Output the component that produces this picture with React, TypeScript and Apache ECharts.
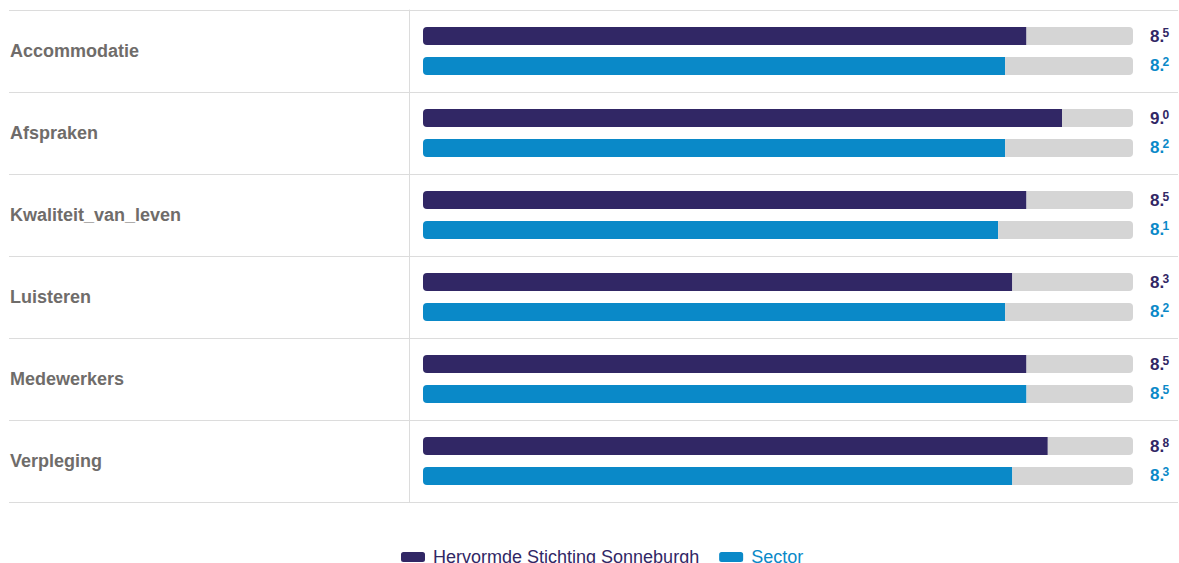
import React, { useEffect, useRef } from "react";
import * as echarts from "echarts";

const categories = ["Accommodatie", "Afspraken", "Kwaliteit_van_leven", "Luisteren", "Medewerkers", "Verpleging"];
const orgName = "Hervormde Stichting Sonneburgh";
const sectorName = "Sector";
const orgValues = [8.5, 9.0, 8.5, 8.3, 8.5, 8.8];
const sectorValues = [8.2, 8.2, 8.1, 8.2, 8.5, 8.3];
const scaleMax = 10;

const DARK = "#312765";
const BLUE = "#0a89c8";
const TRACK = "#d5d5d5";
const FONT = "'Liberation Sans', Arial, sans-serif";

function fmt(v: number) {
  const s = v.toFixed(1).split(".");
  return `{i|${s[0]}}{d|.}{s|${s[1]}}`;
}

function richFor(color: string) {
  return {
    i: { fontSize: 17, fontWeight: "bold", color, fontFamily: FONT },
    d: { fontSize: 17, fontWeight: "bold", color, fontFamily: FONT, width: 3 },
    s: { fontSize: 12, fontWeight: "bold", color, fontFamily: FONT, verticalAlign: "top", padding: [0, 0, 7, 0] },
  };
}

export default function App() {
  const ref = useRef<HTMLDivElement>(null);
  useEffect(() => {
    if (!ref.current) return;
    const chart = echarts.init(ref.current, undefined, { renderer: "svg" });
    const rest = (arr: number[]) => arr.map((v) => +(scaleMax - v).toFixed(2));
    chart.setOption({
      animation: false,
      textStyle: { fontFamily: FONT },
      legend: {
        top: 543,
        left: 396,
        icon: "roundRect",
        itemWidth: 24,
        itemHeight: 10,
        itemGap: 20,
        data: [
          { name: orgName, textStyle: { color: DARK } },
          { name: sectorName, textStyle: { color: BLUE } },
        ],
        textStyle: { fontSize: 18, fontFamily: FONT, padding: [0, 0, 0, 3] },
      },
      grid: [
        { left: 9, right: 1, top: 10, height: 492 },
        { left: 423, right: 46, top: 10, height: 492 },
      ],
      xAxis: [
        { type: "value", gridIndex: 0, show: false, min: 0, max: 1 },
        { type: "value", gridIndex: 1, show: false, min: 0, max: scaleMax },
      ],
      yAxis: [
        {
          type: "category",
          gridIndex: 0,
          data: categories,
          inverse: true,
          axisLine: { show: false },
          axisTick: { show: false },
          axisLabel: {
            inside: true,
            margin: 1,
            fontSize: 18,
            fontWeight: "bold",
            color: "#6f6c6a",
            fontFamily: FONT,
          },
          splitLine: { show: true, lineStyle: { color: "#dcdcdc", width: 1 } },
        },
        {
          type: "category",
          gridIndex: 1,
          position: "left",
          data: categories,
          inverse: true,
          offset: 14,
          axisLine: { show: true, onZero: false, lineStyle: { color: "#dcdcdc", width: 1 } },
          axisTick: { show: false },
          axisLabel: { show: false },
          splitLine: { show: false },
        },
      ],
      series: [
        {
          name: orgName,
          type: "bar",
          xAxisIndex: 1,
          yAxisIndex: 1,
          stack: "org",
          data: orgValues,
          barWidth: 18,
          barGap: "66%",
          itemStyle: { color: DARK, borderRadius: [4, 0, 0, 4] },
        },
        {
          name: orgName + " rest",
          type: "bar",
          xAxisIndex: 1,
          yAxisIndex: 1,
          stack: "org",
          data: rest(orgValues),
          barWidth: 18,
          itemStyle: { color: TRACK, borderRadius: [0, 4, 4, 0] },
          label: {
            show: true,
            position: "right",
            distance: 17,
            formatter: (p: any) => fmt(orgValues[p.dataIndex]),
            rich: richFor(DARK),
          },
          silent: true,
        },
        {
          name: sectorName,
          type: "bar",
          xAxisIndex: 1,
          yAxisIndex: 1,
          stack: "sector",
          data: sectorValues,
          barWidth: 18,
          barGap: "66%",
          itemStyle: { color: BLUE, borderRadius: [4, 0, 0, 4] },
        },
        {
          name: sectorName + " rest",
          type: "bar",
          xAxisIndex: 1,
          yAxisIndex: 1,
          stack: "sector",
          data: rest(sectorValues),
          barWidth: 18,
          itemStyle: { color: TRACK, borderRadius: [0, 4, 4, 0] },
          label: {
            show: true,
            position: "right",
            distance: 17,
            formatter: (p: any) => fmt(sectorValues[p.dataIndex]),
            rich: richFor(BLUE),
          },
          silent: true,
        },
      ],
    });
    return () => chart.dispose();
  }, []);
  return (
    <div
      ref={ref}
      style={{ position: "fixed", left: 0, top: 0, width: 1179, height: 563, background: "#fff" }}
    />
  );
}
